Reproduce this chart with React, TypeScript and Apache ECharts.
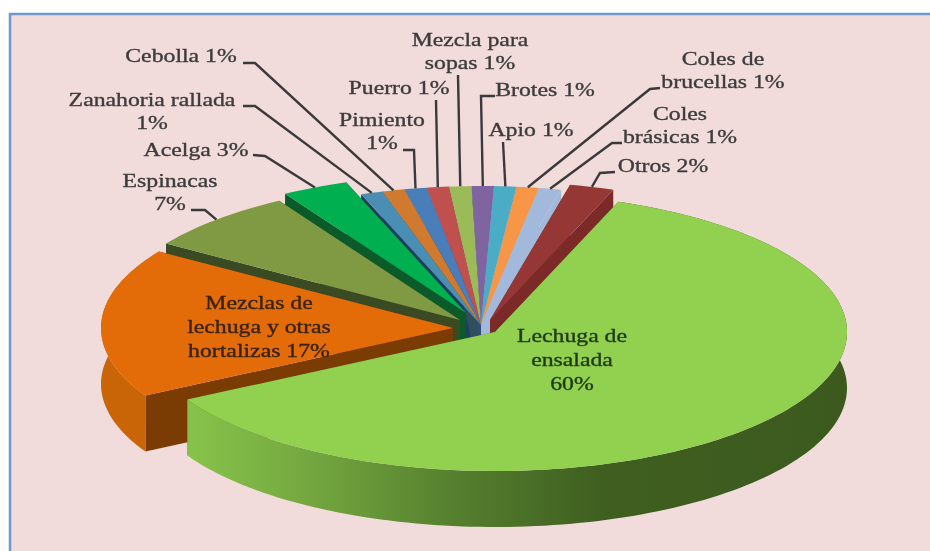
import React, { useEffect, useRef } from "react";
import * as echarts from "echarts";

const categories = ["Lechuga de ensalada","Mezclas de lechuga y otras hortalizas","Espinacas","Acelga","Zanahoria rallada","Cebolla","Pimiento","Puerro","Mezcla para sopas","Brotes","Apio","Coles de brucellas","Coles brásicas","Otros"];
const values = [60,17,7,3,1,1,1,1,1,1,1,1,1,2];

const topColors = ["#92d050","#e36c09","#7f9a43","#00b050","#4a8fb3","#d07a30","#4a7ebb","#c0504d","#9bbb59","#8064a2","#4bacc6","#f79646","#a2b9dc","#953735"];
const faceColors = ["#4a7a28","#7a3c02","#3a4a22","#0b5a2a","#1f3f5f","#1f3f5f","#1f3f5f","#1f3f5f","#2f4f5f","#2f4f6f","#9fb3cf","#9fb3cf","#a2b9dc","#7b2a28"];
const wallColors = ["#3c5a1e","#c96407","#3a4a22","#0b5a2a","#2f6a88","#a05a20","#36608f","#903c3a","#76903f","#5f4a7a","#358095","#b8702f","#7d8fa8","#702826"];

// slice centres (the exploded offsets) in pixels
const centres: [number, number][] = [[495,332],[453,328],[460,320],[466,313],[481,325],[481,325],[481,325],[481,325],[481,325],[481,325],[481,325],[481,325],[481,325],[490,320]];
const paintRank = [4,3,2,1,0,0,0,0,0,0,0,0,0,0];

const RX = 352, RY = 139, DEPTH = 56, START = 20.5;

type Lbl = { lines: string[]; x: number; y: number; leader: [number, number][] };
const outerLabels: (Lbl | null)[] = [
  null, null,
  { lines: ["Espinacas","7%"], x: 170, y: 181, leader: [[191,210],[205,210]] },
  { lines: ["Acelga 3%"], x: 196, y: 150, leader: [[253,155],[265,156]] },
  { lines: ["Zanahoria rallada","1%"], x: 152, y: 100, leader: [[243,106],[255,106]] },
  { lines: ["Cebolla 1%"], x: 181, y: 56, leader: [[243,63],[255,63]] },
  { lines: ["Pimiento","1%"], x: 382, y: 120, leader: [[403,150],[414,150]] },
  { lines: ["Puerro 1%"], x: 399, y: 88, leader: [[436,100]] },
  { lines: ["Mezcla para","sopas 1%"], x: 470, y: 40, leader: [[458,75]] },
  { lines: ["Brotes 1%"], x: 545, y: 90, leader: [[495,96],[481,96]] },
  { lines: ["Apio 1%"], x: 531, y: 130, leader: [[503,142]] },
  { lines: ["Coles de","brucellas 1%"], x: 723, y: 59, leader: [[660,88],[650,89]] },
  { lines: ["Coles","brásicas 1%"], x: 680, y: 114, leader: [[622,143],[612,143]] },
  { lines: ["Otros 2%"], x: 663, y: 166, leader: [[615,172],[600,173]] },
];
const innerLabels: ({ lines: string[]; x: number; y: number; fill: string } | null)[] = [
  { lines: ["Lechuga de","ensalada","60%"], x: 572, y: 336, fill: "#1f3a12" },
  { lines: ["Mezclas de","lechuga y otras","hortalizas 17%"], x: 259, y: 303, fill: "#3a2208" },
];

const FONT = '"Liberation Serif", "Times New Roman", serif';
const textStyle = (t: string, fill: string) => ({
  text: t, fill, stroke: fill, lineWidth: 0.35, font: `19px ${FONT}`, align: "center", verticalAlign: "middle",
});

function renderSlice(params: any, api: any) {
  const i = params.dataIndex;
  const total = values.reduce((a, b) => a + b, 0);
  let before = 0;
  for (let k = 0; k < i; k++) before += values[k];
  const a0 = START + (before / total) * 360;
  const a1 = START + ((before + api.value(0)) / total) * 360;
  const [cx, cy] = centres[i];
  const pt = (deg: number, dy = 0): [number, number] => {
    const r = (deg * Math.PI) / 180;
    return [cx + RX * Math.sin(r), cy - RY * Math.cos(r) + dy];
  };
  const arc: [number, number][] = [];
  const n = Math.max(4, Math.ceil((a1 - a0) / 1.5));
  for (let k = 0; k <= n; k++) arc.push(pt(a0 + ((a1 - a0) * k) / n));
  const arcLow = arc.map(([x, y]) => [x, y + DEPTH]).reverse();
  const c: [number, number] = [cx, cy];
  const cLow: [number, number] = [cx, cy + DEPTH];
  const base = paintRank[i] * 10;
  const wallFill = i === 0
    ? new echarts.graphic.LinearGradient(195, 0, 848, 0, [
        { offset: 0, color: "#86c24a" },
        { offset: 0.14, color: "#78ad42" },
        { offset: 0.4, color: "#557f2e" },
        { offset: 0.62, color: "#3f5f20" },
        { offset: 1, color: "#3c5a1e" },
      ], true)
    : wallColors[i];
  const children: any[] = [
    { type: "polygon", z2: base, shape: { points: [c, cLow, [arc[0][0], arc[0][1] + DEPTH], arc[0]] }, style: { fill: faceColors[i] } },
    { type: "polygon", z2: base, shape: { points: [c, cLow, [arc[n][0], arc[n][1] + DEPTH], arc[n]] }, style: { fill: faceColors[i] } },
  ];
  // the outer wall is only seen on the front half of the ellipse
  if (arc.some(([, y]) => y > cy)) {
    children.push({ type: "polygon", z2: base + 1, shape: { points: [...arc, ...arcLow] }, style: { fill: wallFill } });
  }
  children.push({ type: "polygon", z2: base + 2, shape: { points: [c, ...arc] }, style: { fill: topColors[i] } });
  const lab = outerLabels[i];
  if (lab) {
    const mid = pt((a0 + a1) / 2);
    children.push({
      type: "polyline", z2: 100,
      shape: { points: [...lab.leader, mid] },
      style: { fill: "none", stroke: "#3a3a3a", lineWidth: 2.4 },
    });
    lab.lines.forEach((t, j) => children.push({
      type: "text", z2: 101, x: lab.x, y: lab.y + j * 23, scaleX: 1.25,
      style: textStyle(t, "#3c3c3c"),
    }));
  }
  const inner = innerLabels[i];
  if (inner) {
    inner.lines.forEach((t, j) => children.push({
      type: "text", z2: 101, x: inner.x, y: inner.y + j * 24, scaleX: 1.25,
      style: textStyle(t, inner.fill),
    }));
  }
  return { type: "group", children };
}

export default function App() {
  const ref = useRef<HTMLDivElement>(null);
  useEffect(() => {
    const chart = echarts.init(ref.current!, null, { renderer: "svg" });
    chart.setOption({
      animation: false,
      backgroundColor: "transparent",
      graphic: [
        { type: "rect", z: -1, silent: true, shape: { x: 10, y: 14, width: 930, height: 600 }, style: { fill: "#f2dcdb", stroke: "#6f97cc", lineWidth: 2.5 } },
      ],
      series: [{
        type: "custom",
        coordinateSystem: "none",
        silent: true,
        data: values.map((v, i) => ({ name: categories[i], value: [v] })),
        renderItem: renderSlice,
      }],
    });
    return () => chart.dispose();
  }, []);
  return <div ref={ref} style={{ position: "absolute", left: 0, top: 0, width: 930, height: 551, background: "#fff", filter: "blur(0.5px)" }} />;
}
